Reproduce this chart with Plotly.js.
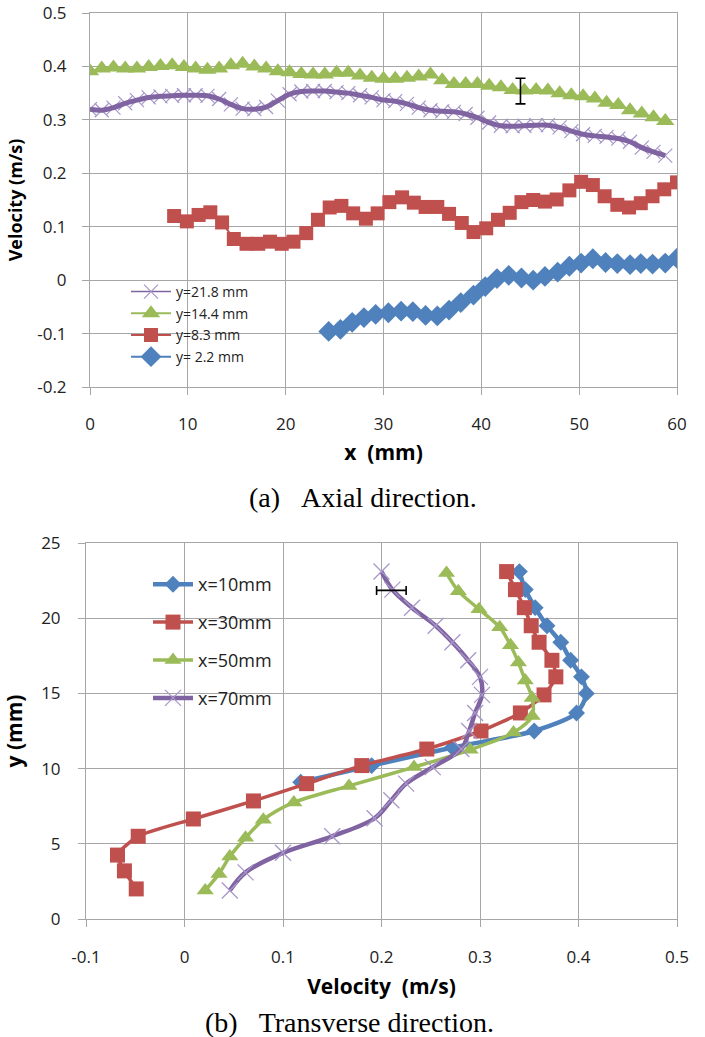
<!DOCTYPE html>
<html>
<head>
<meta charset="utf-8">
<script src="https://cdn.plot.ly/plotly-3.0.1.min.js"></script>
<style>html,body{margin:0;padding:0;background:#fff}#chart{width:705px;height:1037px}</style>
</head>
<body>
<div id="chart"></div>
<script>
// ---------- (a) Axial direction ----------
const xUpper = [0,1.2,2.4,3.6,4.8,6,7.2,8.4,9.6,10.8,12,13.2,14.4,15.6,16.8,18,19.2,20.4,21.6,22.8,24,25.2,26.4,27.6,28.8,30,31.2,32.4,33.6,34.8,36,37.2,38.4,39.6,40.8,42,43.2,44.4,45.6,46.8,48,49.2,50.4,51.6,52.8,54,55.2,56.4,57.6,58.8];
const v218 = [0.320,0.318,0.323,0.331,0.337,0.342,0.344,0.345,0.346,0.346,0.345,0.339,0.329,0.321,0.320,0.324,0.336,0.348,0.353,0.354,0.354,0.352,0.350,0.346,0.342,0.337,0.335,0.330,0.323,0.318,0.316,0.315,0.311,0.304,0.295,0.289,0.288,0.289,0.290,0.290,0.286,0.279,0.273,0.270,0.268,0.265,0.259,0.248,0.240,0.233];
const v144 = [0.391,0.396,0.398,0.396,0.396,0.399,0.401,0.402,0.399,0.396,0.394,0.396,0.402,0.405,0.400,0.396,0.391,0.389,0.386,0.385,0.385,0.388,0.388,0.383,0.379,0.377,0.377,0.379,0.381,0.385,0.374,0.367,0.367,0.367,0.364,0.361,0.356,0.355,0.356,0.355,0.350,0.346,0.344,0.340,0.332,0.328,0.318,0.312,0.305,0.298];
const x83 = [8.6,9.9,11.1,12.3,13.5,14.7,16.0,17.2,18.4,19.6,20.8,22.1,23.3,24.5,25.7,26.9,28.2,29.4,30.6,31.9,33.1,34.3,35.5,36.7,38.0,39.2,40.5,41.7,42.9,44.1,45.3,46.5,47.7,49.0,50.2,51.4,52.6,53.9,55.1,56.3,57.5,58.7,60.0];
const v83 = [0.120,0.110,0.122,0.127,0.108,0.077,0.068,0.068,0.072,0.068,0.072,0.088,0.113,0.136,0.139,0.125,0.115,0.125,0.146,0.155,0.145,0.137,0.137,0.124,0.107,0.090,0.097,0.113,0.126,0.146,0.150,0.147,0.151,0.168,0.184,0.178,0.157,0.141,0.136,0.144,0.157,0.170,0.183];
const x22 = [24.4,25.6,26.8,28.0,29.2,30.5,31.8,33.0,34.3,35.5,36.7,37.9,39.2,40.4,41.6,42.8,44.1,45.3,46.5,47.8,49.0,50.2,51.4,52.7,53.9,55.2,56.3,57.5,58.8,60.0];
const v22 = [-0.096,-0.092,-0.079,-0.070,-0.064,-0.061,-0.058,-0.059,-0.066,-0.067,-0.056,-0.042,-0.028,-0.012,0.003,0.009,0.004,0.000,0.007,0.015,0.026,0.032,0.040,0.033,0.031,0.029,0.031,0.030,0.032,0.041];
const errTopX = [44.0];
const errTopY = [0.354];
const errTopHalf = [0.024];
const topXTicks = [0,10,20,30,40,50,60];
const topXText = ['0','10','20','30','40','50','60'];
const topYTicks = [-0.2,-0.1,0,0.1,0.2,0.3,0.4,0.5];
const topYText = ['-0.2','-0.1','0','0.1','0.2','0.3','0.4','0.5'];

// ---------- (b) Transverse direction ----------
const y10 = [23.1,21.9,20.7,19.5,18.4,17.2,16.1,15.0,13.7,12.5,11.4,10.2,9.1];
const u10 = [0.340,0.346,0.356,0.368,0.382,0.392,0.403,0.408,0.398,0.355,0.272,0.190,0.118];
const y30 = [23.1,21.9,20.7,19.5,18.4,17.2,16.1,14.9,13.7,12.5,11.3,10.2,9.0,7.85,6.65,5.5,4.25,3.2,2.0];
const u30 = [0.327,0.336,0.345,0.352,0.360,0.373,0.377,0.365,0.341,0.301,0.246,0.180,0.124,0.070,0.009,-0.047,-0.068,-0.061,-0.049];
const y50 = [23.0,21.8,20.6,19.4,18.2,17.05,15.85,14.7,13.5,12.4,11.25,10.1,8.85,7.75,6.6,5.4,4.15,3.0,1.9];
const u50 = [0.266,0.278,0.299,0.320,0.331,0.339,0.346,0.353,0.353,0.334,0.290,0.233,0.167,0.111,0.080,0.062,0.046,0.035,0.021];
const y70 = [23.1,21.9,20.7,19.5,18.4,17.2,16.1,14.9,13.7,12.5,11.3,10.1,9.0,7.9,6.7,5.5,4.4,3.1,1.9];
const u70 = [0.200,0.211,0.231,0.255,0.272,0.288,0.300,0.302,0.295,0.289,0.281,0.252,0.225,0.210,0.193,0.150,0.100,0.062,0.046];
const errBotX = [0.210];
const errBotY = [21.85];
const errBotHalf = [0.015];
const botXTicks = [-0.1,0,0.1,0.2,0.3,0.4,0.5];
const botXText = ['-0.1','0','0.1','0.2','0.3','0.4','0.5'];
const botYTicks = [0,5,10,15,20,25];
const botYText = ['0','5','10','15','20','25'];

const BLUE = '#4f81bd', RED = '#c0504d', GREEN = '#9bbb59', PURPLE = '#8064a2', PURPLE_L = '#a897c9';
const GRID = '#a6a6a6';
const SANS = '"Open Sans", Lato, "Liberation Sans", sans-serif';
const SERIF = '"Liberation Serif", "Times New Roman", serif';

const traces = [
  // top chart
  {x:xUpper, y:v218, name:'y=21.8 mm', legendgroup:'a1', legend:'legend', xaxis:'x', yaxis:'y', type:'scatter', mode:'lines+markers',
   line:{color:PURPLE, width:1.5, shape:'spline'}, marker:{symbol:'x-thin', size:14, line:{color:PURPLE_L, width:1.2}}},
  {x:xUpper, y:v218, name:'y=21.8 mm', legendgroup:'a1', legend:'legend', showlegend:false, xaxis:'x', yaxis:'y', type:'scatter', mode:'lines',
   line:{color:PURPLE, width:5, shape:'spline', smoothing:1}, hoverinfo:'skip'},
  {x:xUpper, y:v144, name:'y=14.4 mm', legendgroup:'a2', legend:'legend', xaxis:'x', yaxis:'y', type:'scatter', mode:'lines+markers',
   line:{color:GREEN, width:2}, marker:{symbol:'triangle-up', size:16, color:GREEN}},
  {x:x83, y:v83, name:'y=8.3 mm', legendgroup:'a3', legend:'legend', xaxis:'x', yaxis:'y', type:'scatter', mode:'lines+markers',
   line:{color:RED, width:2}, marker:{symbol:'square', size:14, color:RED}},
  {x:x22, y:v22, name:'y= 2.2 mm', legendgroup:'a4', legend:'legend', xaxis:'x', yaxis:'y', type:'scatter', mode:'lines+markers',
   line:{color:BLUE, width:2}, marker:{symbol:'diamond', size:16, color:BLUE}},
  {x:errTopX, y:errTopY, showlegend:false, xaxis:'x', yaxis:'y', type:'scatter', mode:'markers',
   marker:{size:1, opacity:0}, error_y:{type:'data', array:errTopHalf, color:'#000', thickness:1.6, width:5}, hoverinfo:'skip'},
  // bottom chart
  {x:u10, y:y10, name:'x=10mm', legendgroup:'b1', legend:'legend2', xaxis:'x2', yaxis:'y2', type:'scatter', mode:'lines+markers',
   line:{color:BLUE, width:4.5, shape:'spline', smoothing:0.8}, marker:{symbol:'diamond', size:13, color:BLUE}},
  {x:u30, y:y30, name:'x=30mm', legendgroup:'b2', legend:'legend2', xaxis:'x2', yaxis:'y2', type:'scatter', mode:'lines+markers',
   line:{color:RED, width:3.5, shape:'spline', smoothing:0.6}, marker:{symbol:'square', size:15, color:RED}},
  {x:u50, y:y50, name:'x=50mm', legendgroup:'b3', legend:'legend2', xaxis:'x2', yaxis:'y2', type:'scatter', mode:'lines+markers',
   line:{color:GREEN, width:3.5, shape:'spline', smoothing:0.8}, marker:{symbol:'triangle-up', size:15, color:GREEN}},
  {x:u70, y:y70, name:'x=70mm', legendgroup:'b4', legend:'legend2', xaxis:'x2', yaxis:'y2', type:'scatter', mode:'lines+markers',
   line:{color:PURPLE, width:4.5, shape:'spline', smoothing:1}, marker:{symbol:'x-thin', size:16, line:{color:PURPLE_L, width:1.3}}},
  {x:errBotX, y:errBotY, showlegend:false, xaxis:'x2', yaxis:'y2', type:'scatter', mode:'markers',
   marker:{size:1, opacity:0}, error_x:{type:'data', array:errBotHalf, color:'#000', thickness:1.6, width:4.5}, hoverinfo:'skip'}
];

function axisBase(extra) {
  return Object.assign({
    showgrid:true, gridcolor:GRID, gridwidth:1, zeroline:false,
    showline:true, linecolor:GRID, linewidth:1, mirror:true,
    ticks:'outside', ticklen:7, tickcolor:GRID, tickwidth:1,
    tickfont:{family:SANS, size:17, color:'#222'}, tickmode:'array', fixedrange:true,
    ticklabeloverflow:'allow'
  }, extra);
}

const layout = {
  width:705, height:1037,
  margin:{l:0, r:0, t:0, b:0},
  paper_bgcolor:'#ffffff', plot_bgcolor:'#ffffff',
  font:{family:SANS, color:'#111'},
  showlegend:true,
  xaxis: axisBase({domain:[90/705, 677/705], anchor:'y', range:[0,60], tickvals:topXTicks, ticktext:topXText,
    ticklabelstandoff:15,
    title:{text:'x\u00a0\u00a0(mm)', font:{family:SANS, size:21, weight:700, color:'#000'}, standoff:10}}),
  yaxis: axisBase({domain:[1-387/1037, 1-13/1037], anchor:'x', range:[-0.2,0.5], tickvals:topYTicks, ticktext:topYText,
    ticklabelstandoff:12,
    title:{text:'Velocity (m/s)', font:{family:SANS, size:18, weight:700, color:'#000'}, standoff:9}}),
  xaxis2: axisBase({domain:[86/705, 677/705], anchor:'y2', range:[-0.1,0.5], tickvals:botXTicks, ticktext:botXText,
    ticklabelstandoff:16,
    title:{text:'Velocity\u00a0\u00a0(m/s)', font:{family:SANS, size:21, weight:700, color:'#000'}, standoff:11}}),
  yaxis2: axisBase({domain:[1-919/1037, 1-543/1037], anchor:'x2', range:[0,25], tickvals:botYTicks, ticktext:botYText,
    ticklabelstandoff:14,
    title:{text:'y (mm)', font:{family:SANS, size:21, weight:700, color:'#000'}, standoff:13}}),
  legend:{x:126/705, y:1-276/1037, xanchor:'left', yanchor:'top', bgcolor:'rgba(0,0,0,0)', borderwidth:0,
    font:{family:SANS, size:14, color:'#222'}, traceorder:'grouped', tracegroupgap:0.5, itemwidth:40},
  legend2:{x:148/705, y:1-566/1037, xanchor:'left', yanchor:'top', bgcolor:'rgba(0,0,0,0)', borderwidth:0,
    font:{family:SANS, size:18, color:'#222'}, traceorder:'grouped', tracegroupgap:11.5, itemwidth:40},
  annotations:[
    {xref:'paper', yref:'paper', x:363/705, y:1-497/1037, xanchor:'center', yanchor:'middle', showarrow:false,
     text:'(a)\u00a0\u00a0\u00a0Axial direction.', font:{family:SERIF, size:28, color:'#000'}},
    {xref:'paper', yref:'paper', x:349/705, y:1-1022/1037, xanchor:'center', yanchor:'middle', showarrow:false,
     text:'(b)\u00a0\u00a0\u00a0Transverse direction.', font:{family:SERIF, size:28, color:'#000'}}
  ]
};

Plotly.newPlot('chart', traces, layout, {staticPlot:true, displayModeBar:false});
</script>
</body>
</html>
